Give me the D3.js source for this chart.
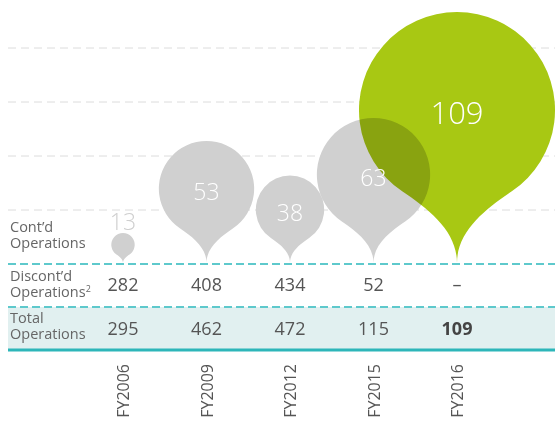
<!DOCTYPE html>
<html lang="en">
<head>
  <meta charset="UTF-8">
  <title>Operations</title>
  <script src="https://d3js.org/d3.v7.min.js"></script>
  <style>
    html, body {
      margin: 0;
      padding: 0;
      background: #fff;
    }
    svg text {
      font-family: "Open Sans", sans-serif;
    }
    .bubbles {
      isolation: isolate;
    }
    .bubble {
      mix-blend-mode: multiply;
    }
  </style>
</head>
<body>
  <div id="container"></div>
  <script>
    const years    = ['FY2006', 'FY2009', 'FY2012', 'FY2015', 'FY2016'];
    const contd    = [13, 53, 38, 63, 109];
    const discontd = [282, 408, 434, 52, null];
    const total    = [295, 462, 472, 115, 109];

    const width = 555;
    const height = 423;

    const svg = d3.select('#container').append('svg')
      .attr('width', width).attr('height', height);

    // scales
    const x = d3.scalePoint().domain(years).range([123, 457]);
    const r = d3.scaleLinear().domain([0, 109]).range([0, 98]);
    const tipY = 263;

    // light grey guide lines behind the bubbles
    const grid = d3.range(4).map(i => 210 - i * 54);
    svg.selectAll('.grid').data(grid).enter().append('line')
      .attr('x1', 8).attr('x2', width)
      .attr('y1', d => d).attr('y2', d => d)
      .attr('stroke', '#dcdcdc').attr('stroke-width', 1)
      .attr('stroke-dasharray', '8,5');

    // total row band
    svg.append('rect').attr('x', 8).attr('y', 307).attr('width', width - 8).attr('height', 42)
      .attr('fill', '#e1f0f0');
    svg.append('line').attr('x1', 8).attr('x2', width).attr('y1', 350).attr('y2', 350)
      .attr('stroke', '#2db6b9').attr('stroke-width', 3);
    [264, 307].forEach(y => {
      svg.append('line').attr('x1', 8).attr('x2', width).attr('y1', y).attr('y2', y)
        .attr('stroke', '#5ec9cc').attr('stroke-width', 2).attr('stroke-dasharray', '8,4');
    });

    // teardrop: circle of radius rr whose tail ends at the tip
    function drop(cx, rr) {
      const cy = tipY - 1.56 * rr;
      const t = 34 * Math.PI / 180;
      const s = Math.sin(t), c = Math.cos(t);
      const pr = [cx + rr * s, cy + rr * c];
      const pl = [cx - rr * s, cy + rr * c];
      const k = 0.34 * rr, m = 0.32 * rr;
      return `M${cx},${tipY}` +
        `C${cx},${tipY - m} ${pr[0] - k * c},${pr[1] + k * s} ${pr[0]},${pr[1]}` +
        `A${rr},${rr} 0 1 0 ${pl[0]},${pl[1]}` +
        `C${pl[0] + k * c},${pl[1] + k * s} ${cx},${tipY - m} ${cx},${tipY}Z`;
    }

    const g = svg.append('g').attr('class', 'bubbles');
    g.selectAll('.bubble').data(contd).enter().append('path')
      .attr('class', 'bubble')
      .attr('d', (d, i) => drop(x(years[i]), r(d)))
      .attr('fill', (d, i) => i === years.length - 1 ? '#a8c813' : '#d0d0d0');

    // bubble labels
    svg.selectAll('.blabel').data(contd).enter().append('text')
      .attr('x', (d, i) => x(years[i]))
      .attr('y', d => r(d) < 20 ? tipY - 1.56 * r(d) - r(d) - 3 : tipY - 1.56 * r(d) + 3)
      .attr('dy', d => r(d) < 20 ? 0 : '0.36em')
      .attr('text-anchor', 'middle')
      .attr('font-size', d => d > 100 ? 31 : 23)
      .attr('font-weight', 300)
      .attr('fill', d => r(d) < 20 ? '#cfcfcf' : '#fff')
      .text(d => d);

    // row labels
    const rows = [
      { y: 228, lines: ['Cont\u2019d', 'Operations'] },
      { y: 277, lines: ['Discont\u2019d', 'Operations'], sup: true },
      { y: 319, lines: ['Total', 'Operations'] }
    ];
    rows.forEach(row => {
      const t = svg.append('text').attr('x', 10).attr('y', row.y)
        .attr('font-size', 14.5).attr('fill', '#666');
      row.lines.forEach((l, i) => {
        t.append('tspan').attr('x', 10).attr('dy', i ? 16 : 4).text(l);
      });
      if (row.sup) t.append('tspan').attr('font-size', 9).attr('dy', -5).text('2');
    });

    // table values
    svg.selectAll('.disc').data(discontd).enter().append('text')
      .attr('x', (d, i) => x(years[i]))
      .attr('y', 285).attr('dy', '0.35em')
      .attr('text-anchor', 'middle').attr('font-size', 18).attr('fill', '#555')
      .text(d => d === null ? '\u2013' : d);

    svg.selectAll('.tot').data(total).enter().append('text')
      .attr('x', (d, i) => x(years[i]))
      .attr('y', 329).attr('dy', '0.35em')
      .attr('text-anchor', 'middle').attr('font-size', 18)
      .attr('font-weight', (d, i) => i === years.length - 1 ? 700 : 400)
      .attr('fill', (d, i) => i === years.length - 1 ? '#444' : '#555')
      .text(d => d);

    // year labels
    svg.selectAll('.year').data(years).enter().append('text')
      .attr('transform', d => `translate(${x(d) + 6},364) rotate(-90)`)
      .attr('text-anchor', 'end')
      .attr('font-size', 16).attr('fill', '#555')
      .text(d => d);
  </script>
</body>
</html>
